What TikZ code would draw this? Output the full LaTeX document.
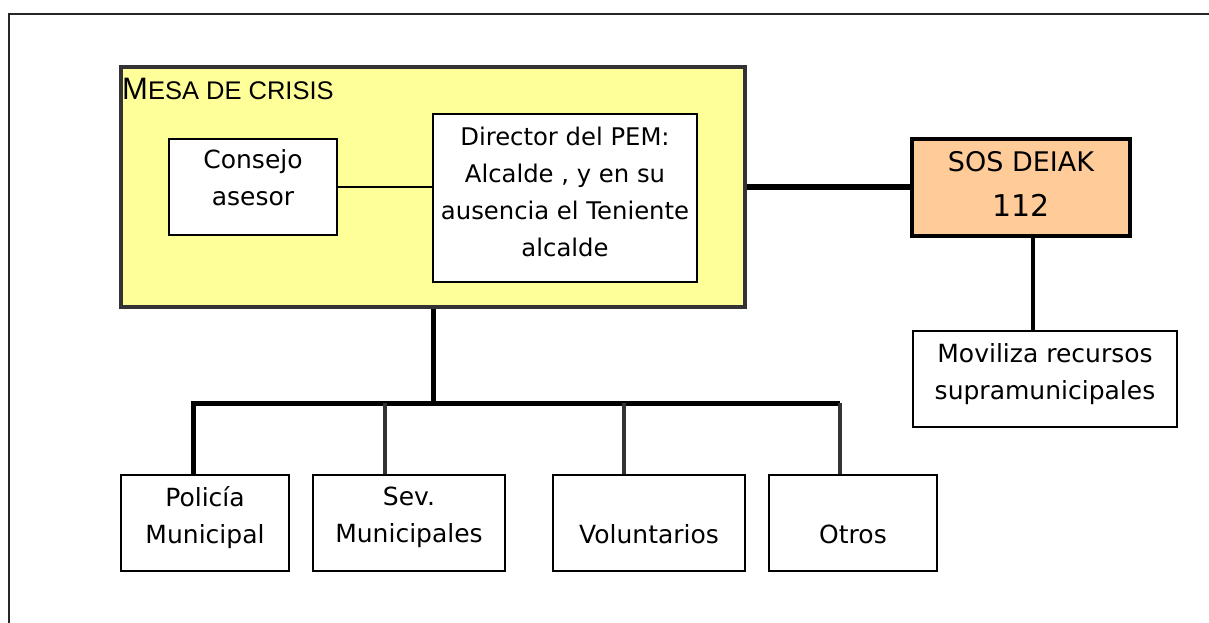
\documentclass[tikz,border=0pt]{standalone}
\usepackage{fontspec}
\setmainfont{DejaVu Sans}
\newfontfamily\lblfont{Liberation Sans}
\newcommand{\mydn}[1]{\rule[-#1]{0pt}{#1}}
\newcommand{\myup}[1]{\rule{0pt}{#1}}
\definecolor{mesafill}{HTML}{FFFF99}
\definecolor{sosfill}{HTML}{FFCC99}
\definecolor{dgray}{HTML}{333333}
\begin{document}
\begin{tikzpicture}[x=1pt,y=-1pt,
  box/.style={draw=black,line width=2pt,fill=white,align=center,inner sep=0pt,
    font=\fontsize{25}{37}\selectfont},
  mesabox/.style={draw=dgray,line width=3.5pt,fill=mesafill,inner sep=0pt},
  sosbox/.style={box,line width=3.5pt,fill=sosfill},
  frameline/.style={draw=black!85,line width=1.4pt},
  thinlink/.style={draw=black,line width=1.5pt},
  heavylink/.style={draw=black,line width=5pt},
  droplink/.style={draw=dgray,line width=4.5pt}]
\useasboundingbox (0,0) rectangle (1209,622);
\fill[white] (0,0) rectangle (1209,622);
\draw[frameline] (9,650) -- (9,14) -- (1240,14);

% Mesa de crisis
\node[mesabox,minimum width=624pt,minimum height=240pt] (mesa) at (433,187) {};
\node[anchor=base west,inner sep=0pt,font=\lblfont] (mesalbl) at (122,99)
  {{\fontsize{31}{31}\selectfont M}{\fontsize{25.5}{25.5}\selectfont ESA DE CRISIS}};

\node[box,minimum width=168pt,minimum height=96pt] (consejo) at (253,187)
  {Consejo\\asesor\mydn{19pt}};
\node[box,minimum width=264pt,minimum height=168pt,font=\fontsize{24.3}{37.3}\selectfont] (director) at (565,198)
  {Director del PEM:\\Alcalde , y en su\\ausencia el Teniente\\alcalde\mydn{12.5pt}};

% SOS DEIAK
\node[sosbox,minimum width=218pt,minimum height=97pt] (sos) at (1021,187.5)
  {{\fontsize{27}{37}\selectfont SOS DEIAK}\\[8pt]{\fontsize{30}{37}\selectfont 112}\mydn{7.5pt}};
\node[box,minimum width=264pt,minimum height=96pt] (moviliza) at (1045,379)
  {Moviliza recursos\\supramunicipales\mydn{16pt}};

% bottom boxes
\node[box,minimum width=168pt,minimum height=96pt] (policia) at (205,523)
  {Policía\\Municipal\mydn{16.5pt}};
\node[box,minimum width=192pt,minimum height=96pt] (sev) at (409,523)
  {Sev.\\Municipales\mydn{16pt}};
\node[box,minimum width=192pt,minimum height=96pt] (volunt) at (649,523)
  {\myup{42pt}Voluntarios};
\node[box,minimum width=168pt,minimum height=96pt] (otros) at (853,523)
  {\myup{42pt}Otros};

% connectors
\draw[thinlink] (consejo.east) -- (consejo.east -| director.west);
\draw[draw=black,line width=6pt] (mesa.east) -- (mesa.east -| sos.west);
\draw[draw=black,line width=3.5pt] ([xshift=12pt]sos.south) -- ([xshift=12pt]sos.south |- moviliza.north);

\coordinate (busL) at (193,403);
\coordinate (busR) at (840,403);
\coordinate (dSev) at (385,403);
\coordinate (dVol) at (624,403);
\draw[heavylink] (mesa.south) -- (mesa.south |- busL);
\draw[heavylink] (busL |- policia.north) -- (busL) -- (busR);
\draw[droplink] (dSev) -- (dSev |- sev.north);
\draw[droplink] (dVol) -- (dVol |- volunt.north);
\draw[droplink] (busR) -- (busR |- otros.north);
\end{tikzpicture}
\end{document}
